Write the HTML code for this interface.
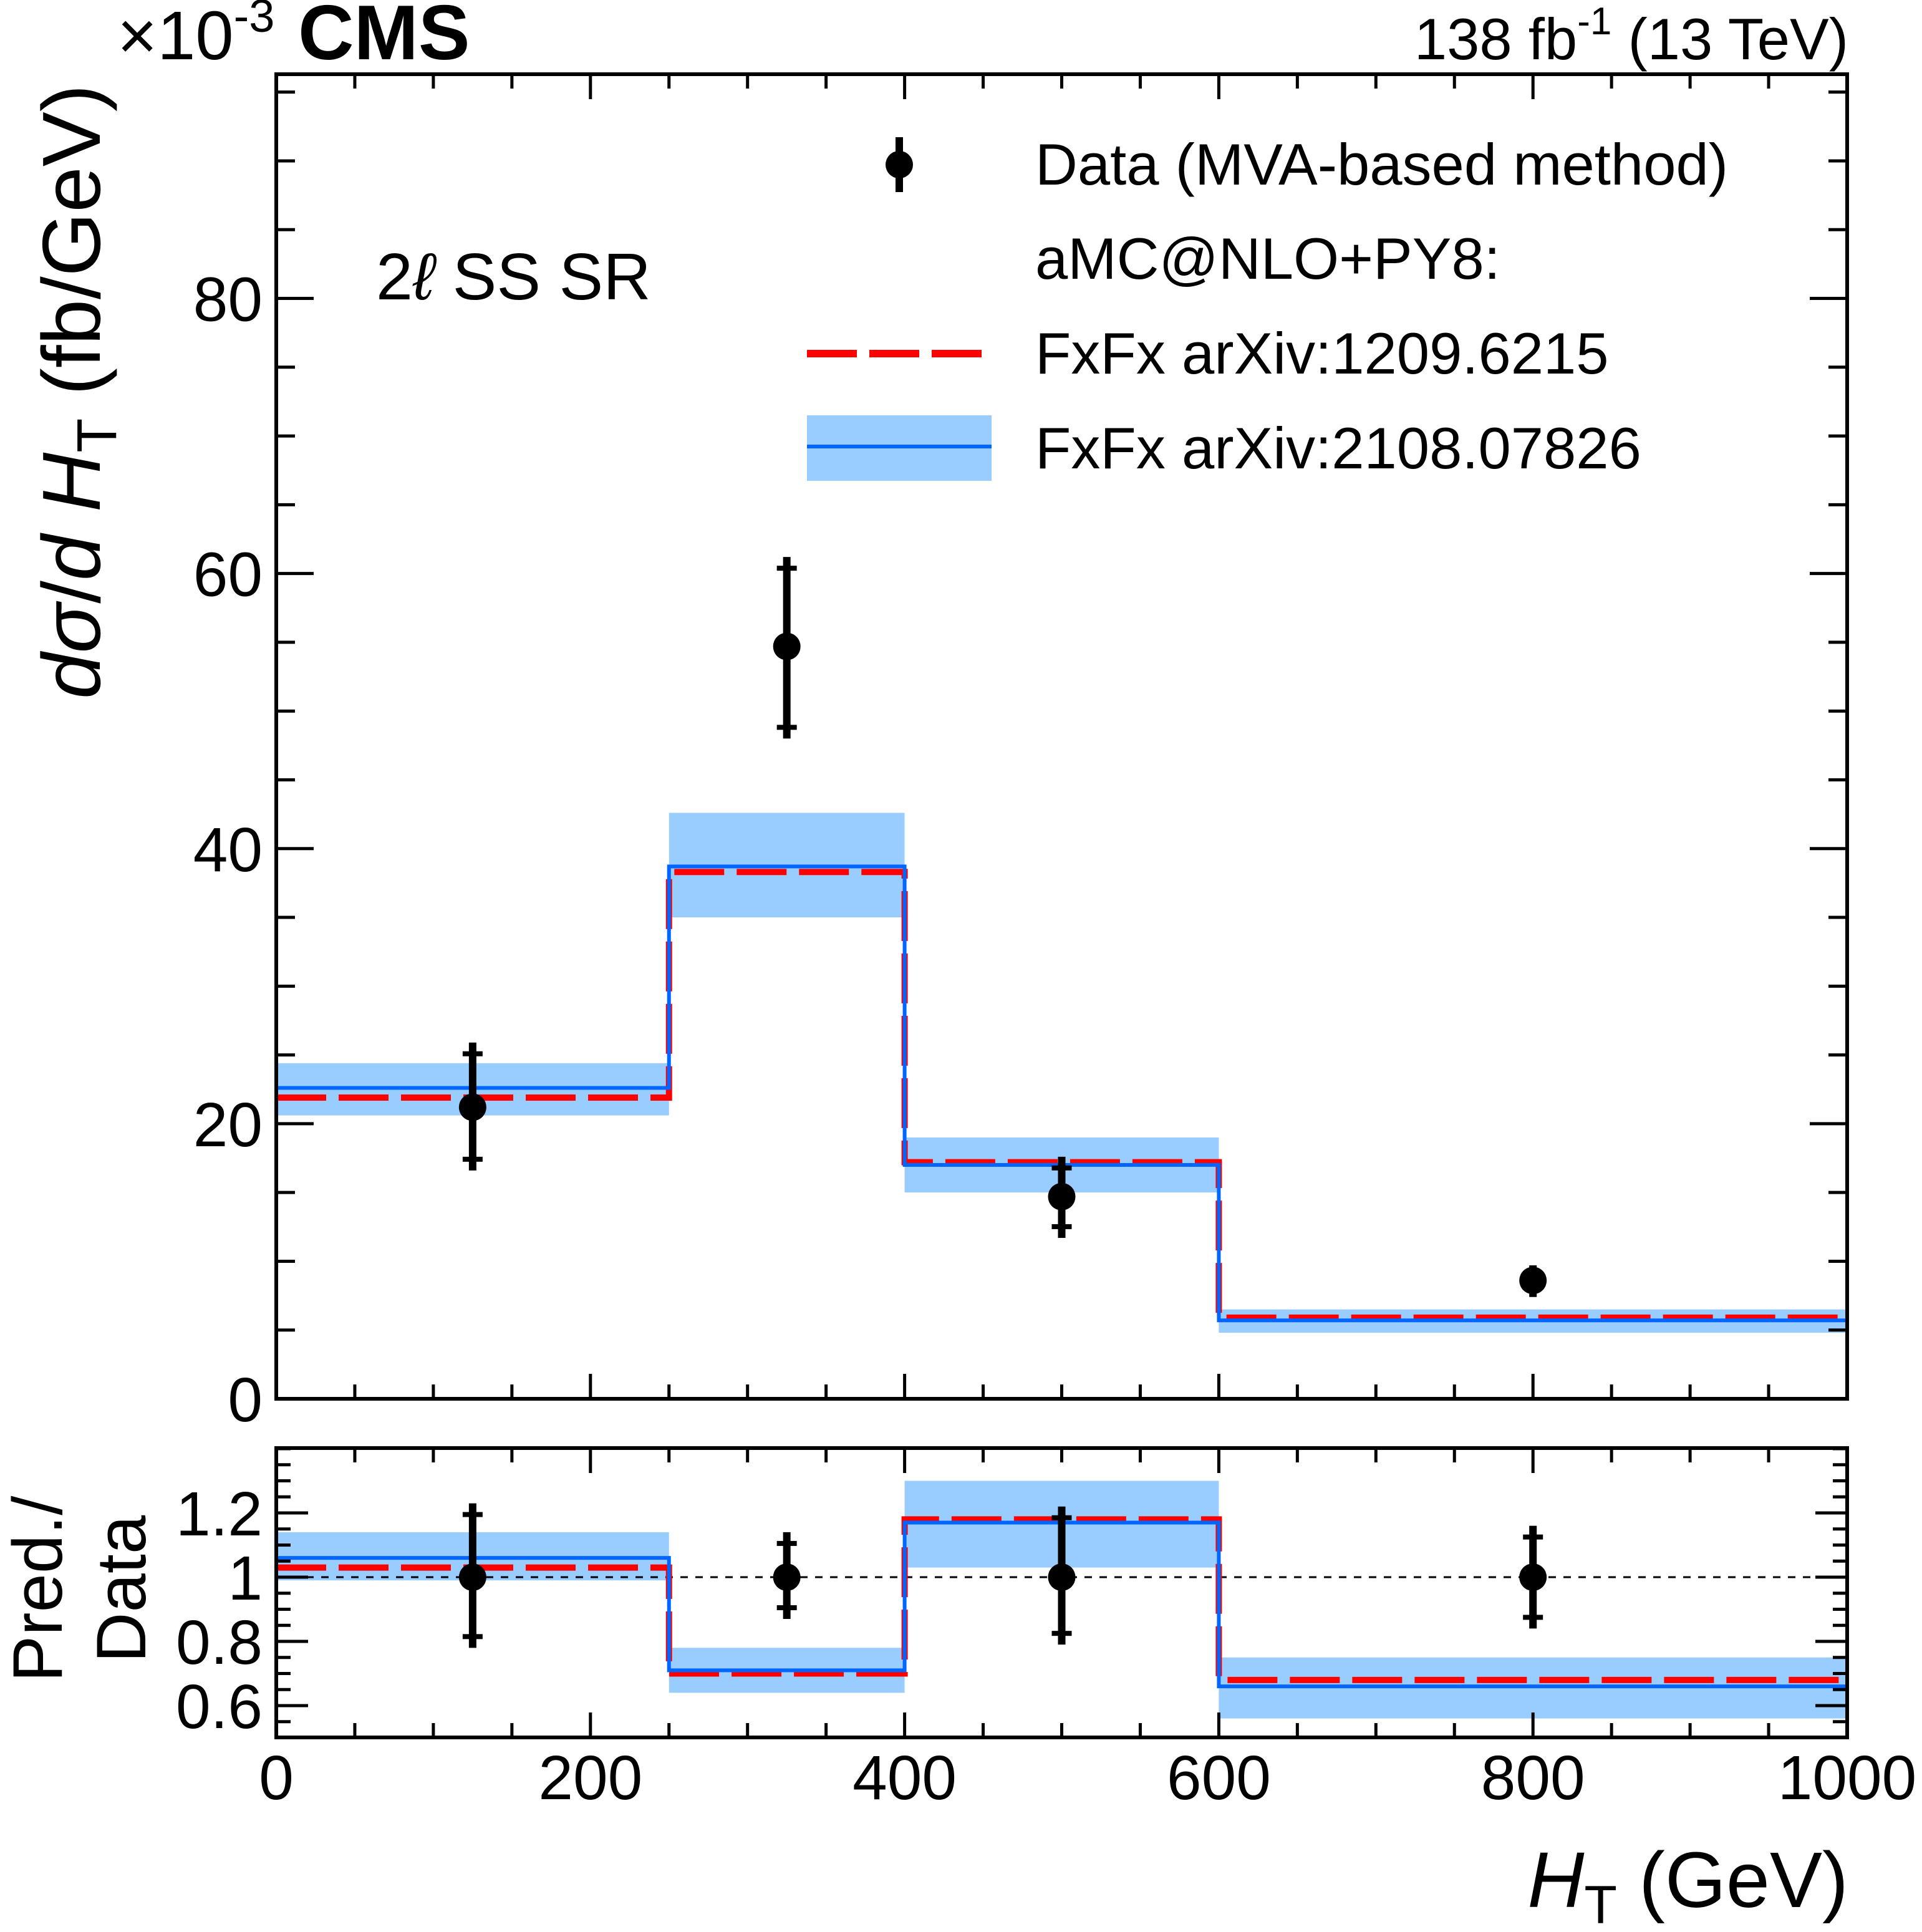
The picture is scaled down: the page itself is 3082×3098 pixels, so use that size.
<!DOCTYPE html>
<html><head><meta charset="utf-8"><style>
html,body{margin:0;padding:0;background:#fff}
svg{display:block}
text{font-family:"Liberation Sans",sans-serif;fill:#000}
</style></head><body>
<svg id="chart" xmlns="http://www.w3.org/2000/svg" width="3082" height="3098" viewBox="0 0 3082 3098">
<rect width="3082" height="3098" fill="#fff"/>
<g id="g-main"></g>
<g id="g-ratio"></g>
<g id="g-text">
<text x="188" y="95" font-size="110">×10<tspan font-size="74" dy="-44">-3</tspan></text>
<text x="478" y="95" font-size="124" font-weight="bold">CMS</text>
<text x="2964" y="95" font-size="94" text-anchor="end">138 fb<tspan font-size="62" dy="-40">-1</tspan><tspan dy="40"> (13 TeV)</tspan></text>
<text x="603" y="480" font-size="106">2<tspan font-style="italic">ℓ</tspan> SS SR</text>
<text transform="translate(160,628) rotate(-90)" font-size="132" text-anchor="middle"><tspan font-style="italic">dσ</tspan>/<tspan font-style="italic">d H</tspan><tspan font-size="90" dy="26">T</tspan><tspan dy="-26"> (fb/GeV)</tspan></text>
<text transform="translate(99,2548) rotate(-90)" font-size="112" text-anchor="middle">Pred./</text>
<text transform="translate(233,2548) rotate(-90)" font-size="112" text-anchor="middle">Data</text>
<text x="2964" y="3058" font-size="126" text-anchor="end"><tspan font-style="italic">H</tspan><tspan font-size="86" dy="26">T</tspan><tspan dy="-26"> (GeV)</tspan></text>
</g>
<g id="g-legend">
<line x1="1442" y1="220" x2="1442" y2="308" stroke="#000" stroke-width="12"/>
<circle cx="1442" cy="264" r="22" fill="#000"/>
<text x="1660" y="296" font-size="94">Data (MVA-based method)</text>
<text x="1660" y="447" font-size="94">aMC@NLO+PY8:</text>
<line x1="1294" y1="567" x2="1590" y2="567" stroke="#ff0000" stroke-width="12" stroke-dasharray="80,20"/>
<text x="1660" y="599" font-size="94">FxFx arXiv:1209.6215</text>
<rect x="1294" y="666" width="296" height="105" fill="#99ccff"/>
<line x1="1294" y1="716" x2="1590" y2="716" stroke="#0066ff" stroke-width="6"/>
<text x="1660" y="751" font-size="94">FxFx arXiv:2108.07826</text>
</g>
</svg>
<script>
const binEdges=[0,250,400,600,1000];
const binCenters=[125,325,500,800];
const dataVals=[21.2,54.7,14.7,8.6];
const dataLo=[16.6,48.0,11.7,7.4];
const dataHi=[25.9,61.2,17.6,9.7];
const redVals=[21.9,38.3,17.2,5.9];
const blueVals=[22.6,38.7,17.0,5.7];
const bandLo=[20.6,35.0,15.0,4.8];
const bandHi=[24.4,42.6,19.0,6.5];
const ratioData=[1,1,1,1];
const ratioLo=[0.78,0.87,0.79,0.84];
const ratioHi=[1.23,1.14,1.22,1.16];
const ratioRed=[1.03,0.70,1.18,0.68];
const ratioBlue=[1.06,0.71,1.17,0.66];
const ratioBandLo=[0.99,0.64,1.03,0.56];
const ratioBandHi=[1.14,0.78,1.30,0.75];
const xTicks=[0,200,400,600,800,1000];
const yTicks=[0,20,40,60,80];
const rTicks=[0.6,0.8,1,1.2];
const rTickLabels=["0.6","0.8","1","1.2"];

const NS="http://www.w3.org/2000/svg";
const X0=443,X1=2962;
const M={top:119,bot:2243,min:0,max:96.3};
const R={top:2322,bot:2786,min:0.501,max:1.402};
const sx=v=>X0+(v-0)/1000*(X1-X0);
const sy=v=>M.bot-(v-M.min)/(M.max-M.min)*(M.bot-M.top);
const ry=v=>R.bot-(v-R.min)/(R.max-R.min)*(R.bot-R.top);
function mk(tag,attrs,parent){const e=document.createElementNS(NS,tag);for(const k in attrs)e.setAttribute(k,attrs[k]);parent.appendChild(e);return e;}
function stepPath(vals,yf){let d='';for(let i=0;i<vals.length;i++){const y=yf(vals[i]);d+=(i===0?'M':'L')+sx(binEdges[i])+','+y+'L'+sx(binEdges[i+1])+','+y;}return d;}

function panel(g,top,bot,yf,band_lo,band_hi,red,blue,dv,dl,dh,isRatio){
  for(let i=0;i<band_lo.length;i++){
    const r=mk('rect',{x:sx(binEdges[i]),y:yf(band_hi[i]),width:sx(binEdges[i+1])-sx(binEdges[i]),height:yf(band_lo[i])-yf(band_hi[i]),fill:'#99ccff'},g);
    
    
  }
  if(isRatio){
    const l=mk('line',{x1:X0,x2:X1,y1:yf(1),y2:yf(1),stroke:'#000','stroke-width':3,'stroke-dasharray':'12,12'},g);
    
    
  }
  const pr=mk('path',{d:stepPath(red,yf),fill:'none',stroke:'#ff0000','stroke-width':10,'stroke-dasharray':'80,20'},g);
  
  
  const pb=mk('path',{d:stepPath(blue,yf),fill:'none',stroke:'#0066ff','stroke-width':6},g);
  
  
  for(let i=0;i<dv.length;i++){
    const x=sx(binCenters[i]);
    const gg=mk('g',{},g);
    
    
    mk('line',{x1:x,x2:x,y1:yf(dh[i]),y2:yf(dl[i]),stroke:'#000','stroke-width':12},gg);
    mk('rect',{x:x-16,y:yf(dh[i])+14,width:32,height:8,fill:'#000'},gg);
    mk('rect',{x:x-16,y:yf(dl[i])-22,width:32,height:8,fill:'#000'},gg);
    mk('circle',{cx:x,cy:yf(dv[i]),r:22,fill:'#000'},gg);
  }
}
function frame(g,top,bot,yf,ymaj,ymin,ymax,yminorStep,labels,fs,ymajL,yminL){
  const fr=mk('rect',{x:X0,y:top,width:X1-X0,height:bot-top,fill:'none',stroke:'#000','stroke-width':6},g);
  
  
  const ax=mk('g',{stroke:'#000','stroke-width':5},g);
  
  
  for(let v=0;v<=1000;v+=50){
    const x=sx(v),L=(v%200===0)?40:23;
    mk('line',{x1:x,x2:x,y1:bot,y2:bot-L},ax);
    mk('line',{x1:x,x2:x,y1:top,y2:top+L},ax);
  }
  const start=Math.ceil(ymin/yminorStep-1e-6);
  for(let k=start;k*yminorStep<=ymax+1e-9;k++){
    const v=k*yminorStep,y=yf(v);
    const isMaj=ymaj.some(t=>Math.abs(t-v)<1e-6);
    const L=isMaj?ymajL:yminL;
    mk('line',{x1:X0,x2:X0+L,y1:y,y2:y},ax);
    mk('line',{x1:X1,x2:X1-L,y1:y,y2:y},ax);
  }
  ymaj.forEach((v,i)=>{
    const t=mk('text',{x:X0-22,y:yf(v)+36,'font-size':fs,'text-anchor':'end'},g);
    t.textContent=labels[i];
    
    
  });
}
const gm=document.getElementById('g-main');
panel(gm,M.top,M.bot,sy,bandLo,bandHi,redVals,blueVals,dataVals,dataLo,dataHi,false);
frame(gm,M.top,M.bot,sy,yTicks,0,M.max,5,yTicks.map(String),100,60,30);
const gr=document.getElementById('g-ratio');
panel(gr,R.top,R.bot,ry,ratioBandLo,ratioBandHi,ratioRed,ratioBlue,ratioData,ratioLo,ratioHi,true);
frame(gr,R.top,R.bot,ry,rTicks,0.5,R.max,0.05,rTickLabels,100,51,23);
xTicks.forEach(v=>{
  const t=mk('text',{x:sx(v),y:2885,'font-size':100,'text-anchor':'middle'},gr);
  t.textContent=String(v);
  
  
});
</script>
</body></html>
